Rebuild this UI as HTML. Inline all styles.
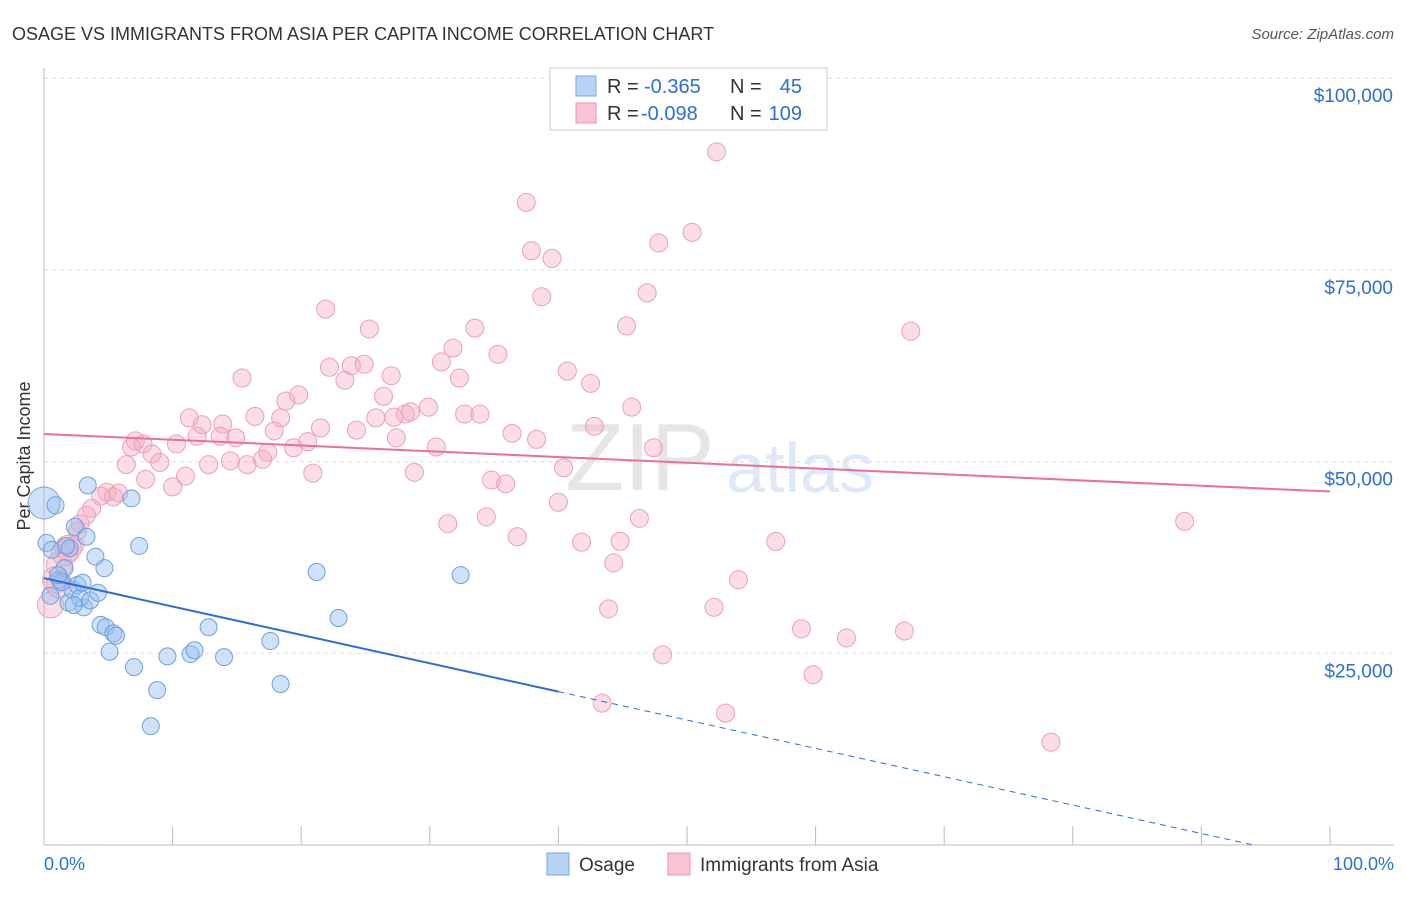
<!DOCTYPE html>
<html><head><meta charset="utf-8"><style>
body{margin:0;background:#fff;font-family:"Liberation Sans",sans-serif}
svg text{font-family:"Liberation Sans",sans-serif}
</style></head><body>
<svg id="c" width="1406" height="892">
<text x="12" y="40" font-size="18" fill="#333">OSAGE VS IMMIGRANTS FROM ASIA PER CAPITA INCOME CORRELATION CHART</text>
<text x="1394" y="39" font-size="15" fill="#555" text-anchor="end" font-style="italic">Source: ZipAtlas.com</text>
<text x="30" y="456" font-size="18" fill="#333" text-anchor="middle" transform="rotate(-90 30 456)">Per Capita Income</text>
<g id="grid"></g>
<text x="640" y="490" font-size="96" fill="#e6e6e6" font-family="Liberation Serif" text-anchor="middle">ZIP</text>
<text x="800" y="492" font-size="70" fill="#dde9f6" text-anchor="middle">atlas</text>
<g id="pts"></g><g id="lines"></g>
<g>
<rect x="550" y="68" width="277" height="62" fill="#fff" stroke="#ccc"/>
<rect x="576" y="76" width="20" height="20" fill="#b8d4f5" stroke="#7aaae0"/>
<rect x="576" y="103" width="20" height="20" fill="#f8c4d4" stroke="#e890b0"/>
<text x="607" y="93" font-size="20" fill="#333">R =</text>
<text x="644" y="93" font-size="20" fill="#2a6fd6">-0.365</text>
<text x="730" y="93" font-size="20" fill="#333">N =</text>
<text x="802" y="93" font-size="20" fill="#2a6fd6" text-anchor="end">45</text>
<text x="607" y="120" font-size="20" fill="#333">R =</text>
<text x="641" y="120" font-size="20" fill="#2a6fd6">-0.098</text>
<text x="730" y="120" font-size="20" fill="#333">N =</text>
<text x="802" y="120" font-size="20" fill="#2a6fd6" text-anchor="end">109</text>
</g>
<g>
<rect x="547" y="853" width="22" height="22" fill="#b8d4f5" stroke="#7aaae0"/>
<text x="579" y="871" font-size="19" fill="#333">Osage</text>
<rect x="668" y="853" width="22" height="22" fill="#f8c4d4" stroke="#e890b0"/>
<text x="700" y="871" font-size="19" fill="#333">Immigrants from Asia</text>
</g>
<text x="44" y="870" font-size="18" fill="#2a6fd6">0.0%</text>
<text x="1394" y="870" font-size="18" fill="#2a6fd6" text-anchor="end">100.0%</text>
</svg>
<script>
const yTicks=[25000,50000,75000,100000];
const yTickLabels=["$25,000","$50,000","$75,000","$100,000"];
const osageX=[0,0.9,0.2,0.6,1.2,1.6,2.0,2.4,1.9,2.2,2.6,3.1,2.8,3.6,3.4,3.3,4.0,4.2,4.7,6.8,7.4,4.4,4.8,5.4,5.6,5.1,7.0,8.8,8.3,9.6,11.4,11.7,12.8,14.0,17.6,18.4,21.2,22.9,32.4,1.4,1.1,0.5,2.3,1.7,3.0];
const osageY=[44.6,44.3,39.4,38.5,34.6,36.1,38.7,41.5,31.6,33.3,33.9,31.0,32.2,31.9,46.9,40.2,37.6,32.9,36.1,45.2,39.0,28.7,28.4,27.6,27.3,25.2,23.2,20.2,15.5,24.6,24.9,25.4,28.4,24.5,26.6,21.0,35.6,29.6,35.2,34.3,35.2,32.5,31.3,39.0,34.2];
const asiaX=[52.3,37.5,37.9,39.5,47.8,50.4,38.7,46.9,21.9,33.5,45.3,67.4,25.3,35.3,30.9,31.8,22.2,23.9,24.9,23.4,15.4,27.0,32.3,40.7,42.5,19.8,26.4,18.8,11.3,12.3,13.9,13.7,16.4,18.4,21.5,24.3,25.8,28.1,28.5,29.9,27.2,32.7,33.9,27.4,30.5,36.4,38.3,42.8,45.7,47.4,7.1,7.7,6.8,10.3,11.9,14.9,17.9,17.4,20.5,19.4,8.4,9.0,6.4,12.8,14.5,15.8,17.0,20.9,7.9,10.0,11.0,28.8,34.8,35.9,40.4,4.9,5.4,5.8,4.4,3.7,3.3,2.8,2.6,2.4,1.9,1.6,1.2,0.9,0.5,1.2,34.4,31.4,36.8,40.0,41.8,44.8,46.3,44.3,56.9,88.7,43.9,52.1,54.0,58.9,62.4,66.9,48.1,59.8,43.4,53.0,78.3];
const asiaY=[90.4,83.8,77.5,76.5,78.5,79.9,71.5,72.0,69.9,67.4,67.7,67.0,67.3,64.0,63.0,64.8,62.3,62.5,62.7,60.6,60.9,61.2,60.9,61.8,60.2,58.7,58.5,57.9,55.7,54.8,54.9,53.3,55.9,55.7,54.4,54.1,55.7,56.2,56.5,57.1,55.8,56.2,56.2,53.1,51.9,53.7,52.9,54.6,57.1,51.8,52.7,52.3,51.9,52.3,53.3,53.1,54.0,51.2,52.6,51.8,51.0,49.9,49.6,49.6,50.1,49.6,50.3,48.5,47.7,46.7,48.1,48.6,47.6,47.1,49.2,46.0,45.4,45.9,45.5,43.9,43.0,41.9,40.9,39.1,38.7,38.1,36.5,34.6,31.3,33.9,42.8,41.9,40.2,44.7,39.5,39.6,42.6,36.8,39.6,42.2,30.8,31.0,34.6,28.2,27.0,27.9,24.8,22.2,18.5,17.2,13.4];
const osageTrend=[34.8,-0.37];
const asiaTrend=[53.6,-0.075];
const NS="http://www.w3.org/2000/svg";
const X=p=>44+p*12.86, Y=v=>845-v/25000*191.7, Yk=k=>Y(k*1000);
function mk(t,a,parent){const e=document.createElementNS(NS,t);for(const k in a)e.setAttribute(k,a[k]);parent.appendChild(e);return e;}
const grid=document.getElementById('grid');
yTicks.forEach((t,i)=>{
 const l=mk('line',{x1:44,x2:1394,y1:Y(t),y2:Y(t),stroke:'#ddd','stroke-dasharray':'4,4'},grid);
 
 
 const tx=mk('text',{x:1393,y:Y(t)+24,'font-size':19,fill:'#2a6fd6','text-anchor':'end'},grid);
 tx.textContent=yTickLabels[i];
 
 
});
const ax=mk('line',{x1:44,x2:1394,y1:845,y2:845,stroke:'#bbb'},grid);


const ay=mk('line',{x1:44,x2:44,y1:68,y2:845,stroke:'#bbb'},grid);


for(let i=0;i<=10;i++){const t=mk('line',{x1:X(i*10),x2:X(i*10),y1:826,y2:845,stroke:'#bbb'},grid);
 
 }
const pts=document.getElementById('pts');
asiaX.forEach((x,i)=>{const c=mk('circle',{cx:X(x),cy:Yk(asiaY[i]),r:(x<2?13:9),fill:'rgba(245,170,195,0.4)',stroke:'#eaa0b8','stroke-width':1},pts);
 
 });
osageX.forEach((x,i)=>{const c=mk('circle',{cx:X(x),cy:Yk(osageY[i]),r:(i==0?16:8.5),fill:'rgba(150,190,240,0.45)',stroke:'#6fa0dc','stroke-width':1},pts);
 
 });
const lines=document.getElementById('lines');
const ot=p=>osageTrend[0]+osageTrend[1]*p;
let l1=mk('line',{x1:X(0),y1:Yk(ot(0)),x2:X(40),y2:Yk(ot(40)),stroke:'#2a6fd6','stroke-width':2},lines);


const pEnd=-osageTrend[0]/osageTrend[1];
let l2=mk('line',{x1:X(40),y1:Yk(ot(40)),x2:X(pEnd),y2:Yk(0),stroke:'#2a6fd6','stroke-width':1,'stroke-dasharray':'6,5'},lines);


const at=p=>asiaTrend[0]+asiaTrend[1]*p;
let l3=mk('line',{x1:X(0),y1:Yk(at(0)),x2:X(100),y2:Yk(at(100)),stroke:'#e8709a','stroke-width':2},lines);


</script>
</body></html>
